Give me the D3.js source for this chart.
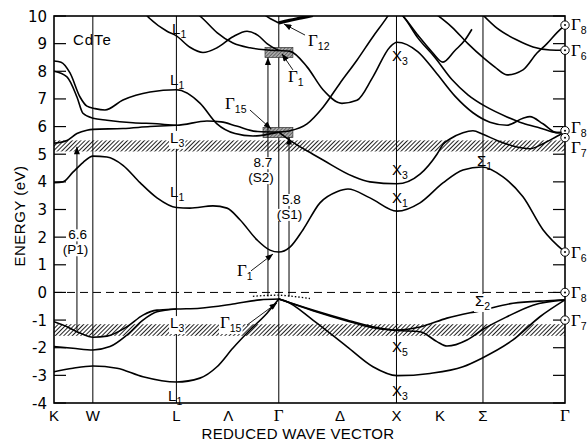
<!DOCTYPE html>
<html><head><meta charset="utf-8">
<script src="https://cdn.jsdelivr.net/npm/d3@7"></script>
<style>body{margin:0;background:#fff}svg{display:block}</style>
</head><body><svg id="c" width="587" height="444"></svg>
<script>
// ---------- data ----------
const symK = [0, 0.33, 1.04, 1.48, 1.91, 2.43, 2.91, 3.28, 3.645, 4.342];
const symLabels = ["K", "W", "L", "Λ", "Γ", "Δ", "X", "K", "Σ", "Γ"];
const gridK = [0.33, 1.04, 1.91, 2.91, 3.645];
const energyTicks = [-4, -3, -2, -1, 0, 1, 2, 3, 4, 5, 6, 7, 8, 9, 10];
const hatchBands = [[5.1, 5.5], [-1.57, -1.15]];

// conduction bands [k, E(eV)]
const cbA = [[0,8.37],[0.06,8.33],[0.136,7.94],[0.221,7.07],[0.28,6.74],[0.348,6.65],[0.433,6.6],[0.586,6.96],[0.816,7.25],[1.04,7.33],[1.24,6.85],[1.385,6.1],[1.538,5.75],[1.691,5.66],[1.818,5.72],[1.91,5.8]];
const cbB = [[0,8.0],[0.11,7.8],[0.195,7.07],[0.246,6.48],[0.331,6.3],[0.45,6.23],[0.671,6.14],[0.875,6.1],[1.04,6.05],[1.30,6.2],[1.42,6.17],[1.55,6.02],[1.73,5.82],[1.91,5.8]];
const cbC = [[0,5.4],[0.11,5.5],[0.195,5.75],[0.28,5.87],[0.331,5.9],[0.586,5.93],[0.816,6.0],[1.04,6.05]];
const cbL1top = [[0.75,10.2],[0.816,9.9],[0.96,9.45],[1.04,9.28],[1.155,8.87],[1.266,8.68],[1.385,8.85],[1.521,9.25],[1.64,9.45],[1.733,9.3],[1.81,9.0],[1.91,8.75]];
const cbTopG1 = [[1.2,10.15],[1.266,9.9],[1.385,9.4],[1.521,9.02],[1.665,8.85],[1.793,8.78],[1.91,8.75]];
const g12Left = [[1.77,10.1],[1.84,9.9],[1.91,9.75]];
const g12Right = [[1.91,9.75],[2.0,9.84],[2.1,9.93],[2.2,10.02]];
const cbG1X = [[1.91,8.75],[2.005,8.72],[2.15,8.16],[2.286,7.33],[2.447,6.84],[2.574,6.95],[2.71,7.8],[2.855,8.88],[2.914,9.05],[3.093,8.7],[3.237,8.0],[3.407,7.1],[3.56,6.5],[3.704,6.16],[3.849,6.05],[3.985,6.3],[4.044,6.36],[4.155,6.1],[4.274,5.78],[4.342,5.8]];
const cbDouble = [[2.93,10.15],[2.965,10.0],[3.093,9.2],[3.237,8.5],[3.381,7.7],[3.517,7.15],[3.67,6.72],[3.849,6.35],[3.985,6.12],[4.129,5.95],[4.274,5.78],[4.342,5.8]];
const cbV = [[2.93,10.15],[2.965,10.0],[3.093,9.3],[3.212,8.7],[3.305,8.33],[3.407,8.75],[3.492,9.13],[3.551,9.52]];
const cbSigmaMin = [[3.22,10.15],[3.381,9.6],[3.517,9.0],[3.645,8.5],[3.747,8.15],[3.849,7.87],[3.985,8.05],[4.104,8.66],[4.189,9.0],[4.274,9.4],[4.342,9.67]];
const cbG6 = [[3.63,10.1],[3.764,9.56],[3.934,9.13],[4.07,8.88],[4.214,8.77],[4.342,8.76]];
const cbG15Up = [[1.91,5.8],[2.005,5.85],[2.15,6.1],[2.286,6.7],[2.43,7.57],[2.574,8.4],[2.71,9.25],[2.829,9.95],[2.86,10.15]];
const cbG15Down = [[1.91,5.8],[2.005,5.5],[2.2,5.0],[2.286,4.79],[2.54,4.2],[2.685,4.0],[2.914,3.93],[3.11,4.28],[3.254,5.0],[3.305,5.35],[3.364,5.55],[3.475,5.78],[3.56,5.85],[3.645,5.72],[3.764,5.5],[3.9,5.3],[4.044,5.2],[4.155,5.38],[4.274,5.65],[4.342,5.8]];
const cbLow = [[0,3.97],[0.076,4.0],[0.161,4.35],[0.246,4.7],[0.331,4.93],[0.45,4.9],[0.586,4.6],[0.731,3.97],[0.875,3.42],[1.04,3.07],[1.155,3.05],[1.351,3.13],[1.47,3.05],[1.58,2.63],[1.725,1.9],[1.835,1.53],[1.91,1.46],[2.005,1.64],[2.116,2.27],[2.26,3.24],[2.404,3.64],[2.498,3.74],[2.685,3.42],[2.914,2.94],[3.11,3.24],[3.305,3.96],[3.475,4.43],[3.636,4.54],[3.815,4.18],[3.985,3.46],[4.155,2.27],[4.342,1.46]];
// valence bands
const vb1Left = [[0,-1.06],[0.11,-1.24],[0.221,-1.47],[0.331,-1.62],[0.45,-1.58],[0.62,-1.24],[0.756,-0.82],[0.875,-0.64],[1.04,-0.6],[1.24,-0.57],[1.521,-0.42],[1.75,-0.27],[1.91,-0.24]];
const vb2Left = [[0,-1.96],[0.161,-2.02],[0.331,-2.08],[0.476,-1.96],[0.62,-1.54],[0.756,-1.0],[0.875,-0.7],[1.04,-0.6]];
const vb3Left = [[0,-2.87],[0.161,-2.74],[0.331,-2.66],[0.535,-2.74],[0.756,-3.05],[1.04,-3.24],[1.24,-3.1],[1.385,-2.69],[1.521,-2.01],[1.665,-1.36],[1.81,-0.75],[1.91,-0.24]];
const vb1Right = [[1.91,-0.24],[2.2,-0.64],[2.489,-1.0],[2.71,-1.24],[2.914,-1.36],[3.11,-1.25],[3.339,-0.93],[3.645,-0.64],[3.9,-0.39],[4.189,-0.3],[4.342,-0.27]];
const vb2Right = [[1.91,-0.24],[2.2,-0.66],[2.489,-1.03],[2.71,-1.28],[2.914,-1.38],[3.11,-1.42],[3.254,-1.78],[3.339,-1.94],[3.509,-1.72],[3.636,-1.36],[3.849,-0.88],[4.07,-0.46],[4.342,-0.27]];
const vb3Right = [[1.91,-0.24],[1.963,-0.3],[2.2,-1.0],[2.489,-1.96],[2.71,-2.69],[2.914,-3.01],[3.195,-2.93],[3.475,-2.69],[3.636,-2.38],[3.9,-1.72],[4.129,-0.88],[4.342,-0.27]];
const dottedTop = [[1.69,-0.14],[1.8,-0.11],[1.91,-0.1],[2.0,-0.13],[2.175,-0.22]];

// shaded boxes [k0,k1,E0,E1]
const boxes = [[1.793,2.03,8.5,8.86],[1.776,2.03,5.6,5.97]];
// transitions [k, Efrom, Eto, value, name, labelK, valueE, nameE]
const transitions = [
  [0.195,-1.36,5.27,"6.6","(P1)",0.2,1.92,1.38],
  [1.818,-0.15,8.5,"8.7","(S2)",1.776,4.53,3.99],
  [1.997,-0.15,5.62,"5.8","(S1)",2.018,3.2,2.66]
];
// point labels [main, sub, k, E, whiteBacking]
const pointLabels = [
  ["L","1",1.003,9.35,0],["L","1",0.986,7.5,0],["L","3",0.986,5.41,1],["L","1",0.986,3.45,0],
  ["X","3",2.872,8.37,0],["X","3",2.872,4.25,0],["X","1",2.872,3.23,0],["Σ","1",3.594,4.57,0],
  ["L","3",0.986,-1.29,1],["L","1",0.969,-3.93,0],["X","5",2.872,-2.16,0],["X","3",2.872,-3.75,0],
  ["Γ","15",1.41,-1.29,1],["Γ","1",1.555,0.59,0],["Γ","15",1.453,6.63,0],["Γ","1",1.988,7.61,0],["Γ","12",2.158,8.91,0]
];
// leader arrows [kFrom,EFrom,kTo,ETo]
const leaders = [[1.64,-1.18,1.895,-0.38],[1.674,0.78,1.861,1.39],[1.665,6.6,1.844,5.92],[2.03,8.05,1.937,8.63],[2.133,9.31,1.954,9.71]];
// right-edge Γ states [sub, E, labelOffsetPx]
const gammaStates = [["8",9.67,5],["6",8.76,6],["8",5.85,2],["7",5.6,15],["6",1.46,6],["8",0,6],["7",-1.0,6]];

// ---------- drawing ----------
const x = d3.scaleLinear().domain([0, 4.342]).range([54, 565]);
const y = d3.scaleLinear().domain([-4, 10]).range([403, 16]);
const svg = d3.select("#c");
const defs = svg.append("defs");
const SANS = "'Liberation Sans', Arial, sans-serif";
const SERIF = "'Liberation Serif', 'DejaVu Serif', serif";

const pat = defs.append("pattern").attr("id","hatch").attr("patternUnits","userSpaceOnUse")
  .attr("width",3).attr("height",6).attr("patternTransform","rotate(45)");
pat.append("rect").attr("width",3).attr("height",6).attr("fill","#fff");
pat.append("line").attr("x1",0.5).attr("y1",0).attr("x2",0.5).attr("y2",6).attr("stroke","#222").attr("stroke-width",1.0);
const pat2 = defs.append("pattern").attr("id","xhatch").attr("patternUnits","userSpaceOnUse")
  .attr("width",2.5).attr("height",2.5).attr("patternTransform","rotate(45)");
pat2.append("rect").attr("width",2.5).attr("height",2.5).attr("fill","#aaa");
pat2.append("line").attr("x1",0.5).attr("y1",0).attr("x2",0.5).attr("y2",2.5).attr("stroke","#555").attr("stroke-width",0.8);
defs.append("clipPath").attr("id","clip").append("rect")
  .attr("x",x(0)).attr("y",y(10)).attr("width",x(4.342)-x(0)).attr("height",y(-4)-y(10));
defs.append("marker").attr("id","arr").attr("viewBox","0 0 10 8").attr("refX",10).attr("refY",4)
  .attr("markerWidth",8).attr("markerHeight",6).attr("markerUnits","userSpaceOnUse").attr("orient","auto")
  .append("path").attr("d","M0,0L10,4L0,8Z").attr("fill","#000");

const plot = svg.append("g").attr("clip-path","url(#clip)");

// hatched bands
plot.selectAll(".hb").data(hatchBands).enter().append("rect")
  .attr("x",x(0)).attr("width",x(4.342)-x(0))
  .attr("y",d=>y(d[1])).attr("height",d=>y(d[0])-y(d[1]))
  .attr("fill","url(#hatch)");

// vertical symmetry lines
plot.selectAll(".vl").data(gridK).enter().append("line")
  .attr("x1",d=>x(d)).attr("x2",d=>x(d)).attr("y1",y(10)).attr("y2",y(-4))
  .attr("stroke","#000").attr("stroke-width",1);

// zero dashed line
plot.append("line").attr("x1",x(0)).attr("x2",x(4.342)).attr("y1",y(0)).attr("y2",y(0))
  .attr("stroke","#000").attr("stroke-width",1).attr("stroke-dasharray","8,5");

// boxes
plot.selectAll(".bx").data(boxes).enter().append("rect")
  .attr("x",d=>x(d[0])).attr("width",d=>x(d[1])-x(d[0]))
  .attr("y",d=>y(d[3])).attr("height",d=>y(d[2])-y(d[3]))
  .attr("fill","url(#xhatch)").attr("stroke","#333").attr("stroke-width",0.7);

// label white backings that sit under the bands (drawn before curves)
const backLayer = svg.append("g");

// bands
const line = d3.line().x(d=>x(d[0])).y(d=>y(d[1])).curve(d3.curveMonotoneX);
const thin = [cbA,cbB,cbC,cbL1top,cbTopG1,g12Left,cbG1X,cbDouble,cbV,cbSigmaMin,cbG6,cbG15Up,cbG15Down,cbLow,
  vb1Left,vb2Left,vb3Left,vb1Right,vb2Right,vb3Right];
plot.selectAll(".band").data(thin).enter().append("path")
  .attr("d",line).attr("fill","none").attr("stroke","#000").attr("stroke-width",1.6);
plot.append("path").datum(g12Right).attr("d",line).attr("fill","none").attr("stroke","#000").attr("stroke-width",3.2);
plot.append("path").datum(dottedTop).attr("d",line).attr("fill","none").attr("stroke","#000")
  .attr("stroke-width",1.3).attr("stroke-dasharray","1.5,2");

// transition arrows
transitions.forEach(t=>{
  plot.append("line").attr("x1",x(t[0])).attr("x2",x(t[0])).attr("y1",y(t[1])).attr("y2",y(t[2]))
    .attr("stroke","#000").attr("stroke-width",1).attr("marker-end","url(#arr)");
});
// leader arrows
leaders.forEach(l=>{
  svg.append("line").attr("x1",x(l[0])).attr("y1",y(l[1])).attr("x2",x(l[2])).attr("y2",y(l[3]))
    .attr("stroke","#000").attr("stroke-width",0.9).attr("marker-end","url(#arr)");
});

// frame
svg.append("rect").attr("x",x(0)).attr("y",y(10)).attr("width",x(4.342)-x(0)).attr("height",y(-4)-y(10))
  .attr("fill","none").attr("stroke","#000").attr("stroke-width",1.6);

// y ticks + labels
energyTicks.forEach(e=>{
  svg.append("line").attr("x1",x(0)).attr("x2",x(0)+12).attr("y1",y(e)).attr("y2",y(e)).attr("stroke","#000").attr("stroke-width",1.2);
  svg.append("line").attr("x1",x(4.342)-12).attr("x2",x(4.342)).attr("y1",y(e)).attr("y2",y(e)).attr("stroke","#000").attr("stroke-width",1.2);
  svg.append("text").attr("x",47).attr("y",y(e)+5.5).attr("text-anchor","end")
    .attr("font-family","'DejaVu Sans', sans-serif").attr("font-size",15).text(e);
});
// x labels
symK.forEach((k,i)=>{
  const g = symLabels[i]==="Γ";
  svg.append("text").attr("x",x(k)).attr("y",421).attr("text-anchor","middle")
    .attr("font-family",g?SERIF:SANS).attr("font-size",g?17:15).text(symLabels[i]);
});
svg.append("text").attr("x",298).attr("y",439).attr("text-anchor","middle").attr("font-family",SANS)
  .attr("font-size",15).attr("letter-spacing",0.3).text("REDUCED WAVE VECTOR");
svg.append("text").attr("transform","translate(25,216) rotate(-90)").attr("text-anchor","middle")
  .attr("font-family",SANS).attr("font-size",15).attr("letter-spacing",0.5).text("ENERGY (eV)");

svg.append("text").attr("x",x(0.161)).attr("y",y(8.95)).attr("font-family",SANS).attr("font-size",15)
  .attr("letter-spacing",1).text("CdTe");

function subLabel(px,py,main,sub,bg,under){
  const t = svg.append("text").attr("x",px).attr("y",py).attr("font-family",main==="Γ"?SERIF:SANS)
    .attr("font-size",main==="Γ"?17:15);
  t.append("tspan").text(main);
  t.append("tspan").attr("font-family",SANS).attr("font-size",10.5).attr("dy",4).text(sub);
  if(bg){
    const b=t.node().getBBox();
    const target = under ? backLayer : null;
    const r = under ? backLayer.append("rect") : svg.insert("rect",()=>t.node());
    r.attr("x",b.x-1).attr("y",b.y+2).attr("width",b.width+2).attr("height",b.height-2).attr("fill","#fff");
  }
  return t;
}
pointLabels.forEach(p=>subLabel(x(p[2]),y(p[3]),p[0],p[1],p[4]===1,true));
subLabel(x(3.577),y(-0.49),"Σ","2",true,false);

// transition labels (value above name, each on white backing)
transitions.forEach(t=>{
  [[t[3],t[6],0],[t[4],t[7],-2]].forEach(([s,e,dx])=>{
    const tx = svg.append("text").attr("x",x(t[5])+dx).attr("y",y(e)).attr("text-anchor","middle")
      .attr("font-family",SANS).attr("font-size",13.5).text(s);
    const b = tx.node().getBBox();
    svg.insert("rect",()=>tx.node()).attr("x",b.x-1).attr("y",b.y+2).attr("width",b.width+2).attr("height",b.height-3).attr("fill","#fff");
  });
});

// right-edge Γ states
gammaStates.forEach(g=>{
  const cy = y(g[1]);
  svg.append("circle").attr("cx",x(4.342)).attr("cy",cy).attr("r",4.2).attr("fill","#fff").attr("stroke","#000").attr("stroke-width",1);
  svg.append("circle").attr("cx",x(4.342)).attr("cy",cy).attr("r",1).attr("fill","#000");
  subLabel(571,cy+g[2],"Γ",g[0],false,false);
});
</script></body></html>
